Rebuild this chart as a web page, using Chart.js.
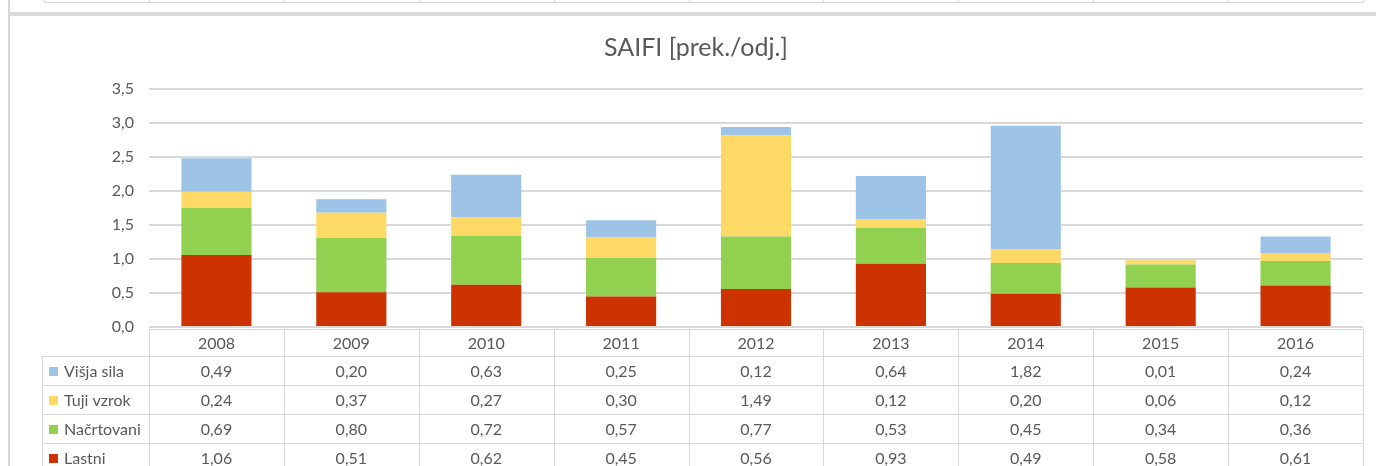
<!DOCTYPE html>
<html>
<head>
<meta charset="utf-8">
<script src="https://cdn.jsdelivr.net/npm/chart.js@4.4.1/dist/chart.umd.min.js"></script>
<style>
  html, body { margin: 0; padding: 0; background: #fff; }
  #wrap { position: relative; width: 1376px; height: 466px; overflow: hidden; }
  #saifi-chart { position: absolute; left: 0; top: 0; }
  .frame-left { position: absolute; left: 8px; top: 0; width: 2px; height: 466px; background: #d9d9d9; }
  .frame-band { position: absolute; left: 8px; top: 12px; width: 1368px; height: 4px; background: #d9d9d9; }
</style>
</head>
<body>
<div id="wrap">
  <canvas id="saifi-chart" width="1376" height="466" style="width:1376px;height:466px"></canvas>
  <div class="frame-left"></div>
  <div class="frame-band"></div>
</div>
<script>
const years = ['2008', '2009', '2010', '2011', '2012', '2013', '2014', '2015', '2016'];
const visjaSila = [0.49, 0.20, 0.63, 0.25, 0.12, 0.64, 1.82, 0.01, 0.24];
const tujiVzrok = [0.24, 0.37, 0.27, 0.30, 1.49, 0.12, 0.20, 0.06, 0.12];
const nacrtovani = [0.69, 0.80, 0.72, 0.57, 0.77, 0.53, 0.45, 0.34, 0.36];
const lastni = [1.06, 0.51, 0.62, 0.45, 0.56, 0.93, 0.49, 0.58, 0.61];

const textColor = '#595959';
const lineColor = '#d9d9d9';
const fontFamily = 'Lato, "Open Sans", sans-serif';

function fmt(v, d) {
  return v.toFixed(d).replace('.', ',');
}

// excel-style data table under the plot, columns follow the x scale
const dataTablePlugin = {
  id: 'dataTable',
  afterDraw(chart) {
    const ctx = chart.ctx;
    const xScale = chart.scales.x;
    const area = chart.chartArea;
    const n = years.length;
    const colW = (area.right - area.left) / n;
    const headTop = Math.round(area.bottom) + 2;
    const headH = 27;
    const rowH = 29;
    const labelLeft = 42;

    // rows top to bottom are the stack reversed
    const rows = chart.data.datasets.slice().reverse();

    ctx.save();
    ctx.strokeStyle = lineColor;
    ctx.lineWidth = 1;

    // fragment of the previous table at the very top
    ctx.beginPath();
    ctx.moveTo(44, 2.5);
    ctx.lineTo(area.right, 2.5);
    ctx.moveTo(44.5, 0);
    ctx.lineTo(44.5, 3);
    for (let i = 0; i <= n; i++) {
      const x = Math.round(area.left + i * colW) + 0.5;
      ctx.moveTo(x, 0);
      ctx.lineTo(x, 3);
    }
    ctx.stroke();

    // grid of the table
    const bottom = headTop + headH + rowH * rows.length;
    ctx.beginPath();
    ctx.moveTo(area.left, headTop + 0.5);
    ctx.lineTo(area.right, headTop + 0.5);
    for (let r = 0; r <= rows.length; r++) {
      const y = headTop + headH + r * rowH + 0.5;
      ctx.moveTo(labelLeft, y);
      ctx.lineTo(area.right, y);
    }
    for (let i = 0; i <= n; i++) {
      const x = Math.round(area.left + i * colW) + 0.5;
      ctx.moveTo(x, headTop);
      ctx.lineTo(x, bottom);
    }
    ctx.moveTo(labelLeft + 0.5, headTop + headH);
    ctx.lineTo(labelLeft + 0.5, bottom);
    ctx.stroke();

    ctx.fillStyle = textColor;
    ctx.font = '16px ' + fontFamily;
    ctx.textBaseline = 'middle';
    ctx.textAlign = 'center';
    years.forEach((yr, i) => {
      ctx.fillText(yr, xScale.getPixelForValue(i), headTop + headH / 2 + 1);
    });

    rows.forEach((ds, r) => {
      const cy = headTop + headH + r * rowH + rowH / 2 + 1;
      ctx.fillStyle = ds.backgroundColor;
      ctx.fillRect(49, Math.round(cy - 5), 9, 9);
      ctx.fillStyle = textColor;
      ctx.textAlign = 'left';
      ctx.fillText(ds.label, 64, cy);
      ctx.textAlign = 'center';
      ds.data.forEach((v, i) => {
        ctx.fillText(fmt(v, 2), xScale.getPixelForValue(i), cy);
      });
    });
    ctx.restore();
  }
};

const saifiChart = new Chart(document.getElementById('saifi-chart').getContext('2d'), {
  type: 'bar',
  data: {
    labels: years,
    datasets: [
      { label: 'Lastni', data: lastni, backgroundColor: '#cc3300' },
      { label: 'Načrtovani', data: nacrtovani, backgroundColor: '#92d050' },
      { label: 'Tuji vzrok', data: tujiVzrok, backgroundColor: '#ffd966' },
      { label: 'Višja sila', data: visjaSila, backgroundColor: '#9dc3e6' }
    ]
  },
  options: {
    responsive: false,
    animation: false,
    barPercentage: 0.52,
    categoryPercentage: 1,
    layout: {
      padding: { left: 29, right: 13, top: 0, bottom: 139 }
    },
    plugins: {
      legend: { display: false },
      tooltip: { enabled: false },
      title: {
        display: true,
        text: 'SAIFI [prek./odj.]',
        color: textColor,
        font: { family: fontFamily, size: 25, weight: 'normal' },
        padding: { top: 33, bottom: 26 }
      }
    },
    scales: {
      x: {
        stacked: true,
        display: false
      },
      y: {
        stacked: true,
        min: 0,
        max: 3.5,
        afterFit(scale) {
          scale.width = 120;
        },
        ticks: {
          stepSize: 0.5,
          padding: 15,
          color: textColor,
          font: { family: fontFamily, size: 16 },
          callback: (v) => fmt(v, 1)
        },
        grid: {
          color: lineColor,
          lineWidth: 2,
          drawTicks: false
        },
        border: { display: false }
      }
    }
  },
  plugins: [dataTablePlugin]
});
</script>
</body>
</html>
